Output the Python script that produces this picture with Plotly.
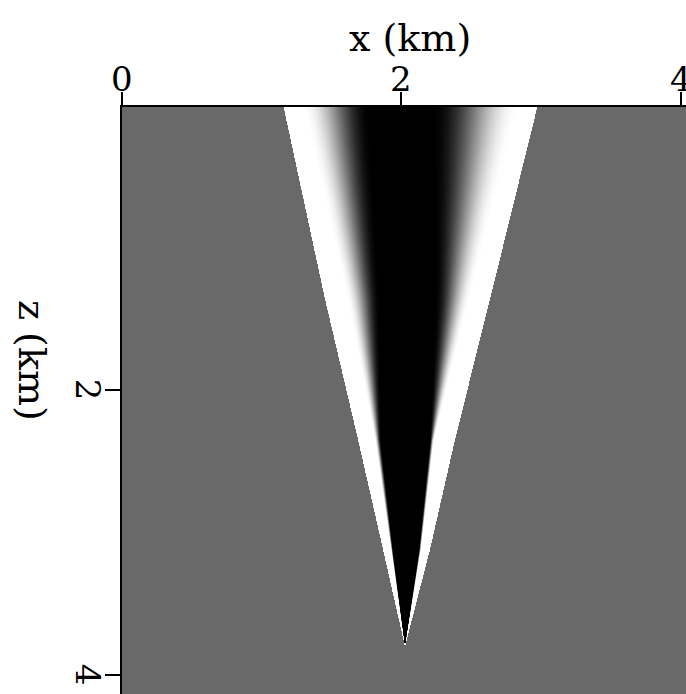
import numpy as np
import plotly.graph_objects as go

# Axis extents (km)
x_max = 4.036
z_top = 0.016
z_bottom = 4.135

# Wedge outline and shading breakpoints, sampled at several depths (km)
rows_z            = [0.000, 1.370, 2.353, 3.125, 3.806]
edge_left         = [1.152, 1.453, 1.689, 1.868, 2.025]
white_end_left    = [1.288, 1.610, 1.810, 1.925, 2.025]
black_start       = [1.775, 1.846, 1.853, 1.939, 2.025]
black_end         = [2.218, 2.240, 2.204, 2.125, 2.025]
white_start_right = [2.848, 2.490, 2.233, 2.140, 2.025]
edge_right        = [2.977, 2.633, 2.383, 2.204, 2.025]

# Gray levels (0 = black, 1 = white)
background_level = 0.41
white_level = 1.0
black_level = 0.0

x_ticks = [0, 2, 4]
z_ticks = [2, 4]

nx, nz = 564, 587
x = np.linspace(0.0, x_max, nx)
z = np.linspace(z_top, z_bottom, nz)


def ramp(t):
    t = np.clip(t, 0.0, 1.0)
    return 0.5 - 0.5 * np.cos(np.pi * t)


field = np.full((nz, nx), background_level)
for i, zi in enumerate(z):
    if zi > rows_z[-1]:
        continue
    L = np.interp(zi, rows_z, edge_left)
    wl = np.interp(zi, rows_z, white_end_left)
    bl = np.interp(zi, rows_z, black_start)
    br = np.interp(zi, rows_z, black_end)
    wr = np.interp(zi, rows_z, white_start_right)
    R = np.interp(zi, rows_z, edge_right)
    row = field[i]
    inside = (x >= L) & (x <= R)
    val = np.full(nx, black_level)
    left_ramp = (x >= wl) & (x < bl)
    right_ramp = (x > br) & (x <= wr)
    if bl > wl:
        val[left_ramp] = white_level - (white_level - black_level) * ramp((x[left_ramp] - wl) / (bl - wl))
    if wr > br:
        val[right_ramp] = black_level + (white_level - black_level) * ramp((x[right_ramp] - br) / (wr - br))
    val[(x < wl)] = white_level
    val[(x > wr)] = white_level
    row[inside] = val[inside]

field = np.round(field, 3)

fig = go.Figure(
    go.Heatmap(
        x=x,
        y=z,
        z=field,
        colorscale=[[0, "black"], [1, "white"]],
        zmin=0,
        zmax=1,
        showscale=False,
        hoverinfo="skip",
    )
)

font_family = "DejaVu Serif"
plot_top_px = 107
plot_h_px = 694 - plot_top_px
plot_left_px = 122
plot_w_px = 686 - plot_left_px

annotations = [
    dict(
        text="x (km)",
        xref="paper",
        yref="paper",
        x=(410 - plot_left_px) / plot_w_px,
        y=1 + (plot_top_px - 38) / plot_h_px,
        xanchor="center",
        yanchor="middle",
        showarrow=False,
        font=dict(family=font_family, size=38),
    ),
    dict(
        text="z (km)",
        xref="paper",
        yref="paper",
        x=-(plot_left_px - 32) / plot_w_px,
        y=1 - (360 - plot_top_px) / plot_h_px,
        xanchor="center",
        yanchor="middle",
        textangle=90,
        showarrow=False,
        font=dict(family=font_family, size=38),
    ),
]

# Tick labels along the top axis, placed on the x scale
for v in x_ticks:
    annotations.append(
        dict(
            text=str(v),
            xref="x",
            yref="paper",
            x=v,
            y=1 + (plot_top_px - 79) / plot_h_px,
            xanchor="center",
            yanchor="middle",
            showarrow=False,
            font=dict(family=font_family, size=34),
        )
    )

# Tick labels along the depth axis, turned to read downward
for v in z_ticks:
    annotations.append(
        dict(
            text=str(v),
            xref="paper",
            yref="y",
            x=-(plot_left_px - 88) / plot_w_px,
            y=v,
            xanchor="center",
            yanchor="middle",
            textangle=90,
            showarrow=False,
            font=dict(family=font_family, size=34),
        )
    )

fig.update_layout(
    width=686,
    height=694,
    margin=dict(l=plot_left_px, r=0, t=plot_top_px, b=0),
    paper_bgcolor="white",
    plot_bgcolor="white",
    font=dict(family=font_family, size=34, color="black"),
    xaxis=dict(
        side="top",
        range=[0, x_max],
        tickvals=x_ticks,
        showticklabels=False,
        ticks="outside",
        ticklen=13,
        tickwidth=1.5,
        tickcolor="black",
        showline=True,
        linecolor="black",
        linewidth=2,
        showgrid=False,
        zeroline=False,
    ),
    yaxis=dict(
        range=[z_bottom, z_top],
        tickvals=z_ticks,
        showticklabels=False,
        ticks="outside",
        ticklen=15,
        tickwidth=1.5,
        tickcolor="black",
        showline=True,
        linecolor="black",
        linewidth=2,
        showgrid=False,
        zeroline=False,
    ),
    annotations=annotations,
)

fig.write_html("out.html")
